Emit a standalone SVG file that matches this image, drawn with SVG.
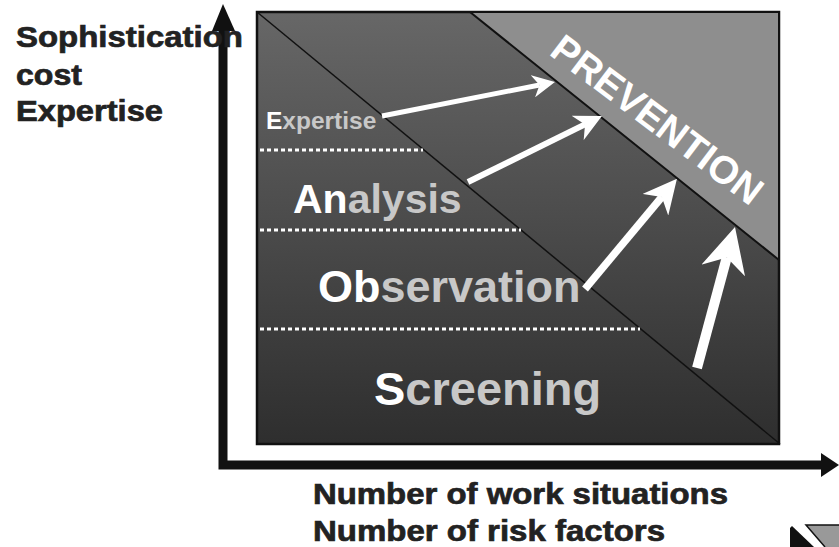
<svg xmlns="http://www.w3.org/2000/svg" width="839" height="547" viewBox="0 0 839 547">
  <style>
    .axis-label { font-family: "Liberation Sans", Arial, sans-serif; font-weight: bold; font-size: 29px; fill: #222; stroke: #222; stroke-width: 0.7; }
    .band { font-family: "Liberation Sans", Arial, sans-serif; font-weight: bold; fill: #c8c8c8; }
    .band .hi { fill: #ffffff; }
    .dots { stroke: #ffffff; stroke-width: 3; stroke-dasharray: 4 3; fill: none; }
    .edge { stroke: #111; fill: none; }
    .arrow { stroke: #ffffff; fill: none; marker-end: url(#head); }
  </style>
  <defs>
    <linearGradient id="bg" x1="0" y1="0" x2="0" y2="1">
      <stop offset="0" stop-color="#676767"/>
      <stop offset="1" stop-color="#2e2e2e"/>
    </linearGradient>
    <marker id="head" viewBox="0 -5 10 10" refX="3" refY="0" markerUnits="strokeWidth" markerWidth="4.5" markerHeight="4.5" orient="auto">
      <path d="M10,0 L0,-5 L3,0 L0,5 Z" fill="#ffffff"/>
    </marker>
  </defs>

  <rect width="839" height="547" fill="#ffffff"/>

  <!-- main panel -->
  <g id="panel">
    <rect x="257" y="12" width="522" height="432" fill="url(#bg)" stroke="#111" stroke-width="2.5"/>
    <line class="edge" x1="257" y1="12" x2="780" y2="444" stroke-width="1.5"/>
  </g>

  <!-- prevention corner -->
  <g id="prevention">
    <polygon points="470,12 779,12 779,260" fill="#8e8e8e" stroke="#111" stroke-width="2" stroke-linejoin="round"/>
    <text x="0" y="0" transform="translate(548,54) rotate(37)" font-family="Liberation Sans, Arial, sans-serif" font-weight="bold" font-size="39" fill="#ffffff">PREVENTION</text>
  </g>

  <!-- band separators -->
  <g id="separators">
    <line class="dots" x1="260" y1="150" x2="423" y2="150"/>
    <line class="dots" x1="260" y1="230" x2="521" y2="230"/>
    <line class="dots" x1="260" y1="329" x2="640" y2="329"/>
  </g>

  <!-- band labels -->
  <g id="expertise">
    <text class="band" x="266" y="129" font-size="24.5"><tspan class="hi">E</tspan>xpertise</text>
  </g>
  <g id="analysis">
    <text class="band" x="293" y="213" font-size="41"><tspan class="hi">An</tspan>alysis</text>
  </g>
  <g id="observation">
    <text class="band" x="318" y="302" font-size="45"><tspan class="hi">Ob</tspan>servation</text>
  </g>
  <g id="screening">
    <text class="band" x="374" y="405" font-size="47"><tspan class="hi">S</tspan>creening</text>
  </g>

  <!-- connectors toward prevention -->
  <g id="connectors">
    <line class="arrow" x1="382" y1="116" x2="539.5" y2="85" stroke-width="5"/>
    <line class="arrow" x1="468" y1="182" x2="585" y2="124.4" stroke-width="6"/>
    <line class="arrow" x1="585" y1="289" x2="661.8" y2="197" stroke-width="7.5"/>
    <line class="arrow" x1="697" y1="368" x2="726.8" y2="257.4" stroke-width="10"/>
  </g>

  <!-- axes -->
  <g id="axes">
    <polyline points="223,30 223,465 822,465" fill="none" stroke="#111" stroke-width="9" stroke-linejoin="miter"/>
    <polygon points="212,31 223,4 235,31" fill="#111"/>
    <polygon points="821,453 839,465 821,477" fill="#111"/>
  </g>

  <!-- axis titles -->
  <g id="y-title">
    <text class="axis-label" x="16" y="47" textLength="227" lengthAdjust="spacingAndGlyphs">Sophistication</text>
    <text class="axis-label" x="16" y="85" textLength="66" lengthAdjust="spacingAndGlyphs">cost</text>
    <text class="axis-label" x="16" y="121" textLength="147" lengthAdjust="spacingAndGlyphs">Expertise</text>
  </g>
  <g id="x-title">
    <text class="axis-label" x="313" y="504" textLength="415" lengthAdjust="spacingAndGlyphs">Number of work situations</text>
    <text class="axis-label" x="313" y="541" textLength="352" lengthAdjust="spacingAndGlyphs">Number of risk factors</text>
  </g>

  <!-- corner emblem -->
  <g id="emblem">
    <polygon points="790,528 792,526 814,547 790,547" fill="#111"/>
    <polygon points="806,525 839,525 839,547 825,547" fill="#999"/>
    <polyline points="825,547 806,525 839,525" fill="none" stroke="#111" stroke-width="1.5"/>
  </g>
</svg>
